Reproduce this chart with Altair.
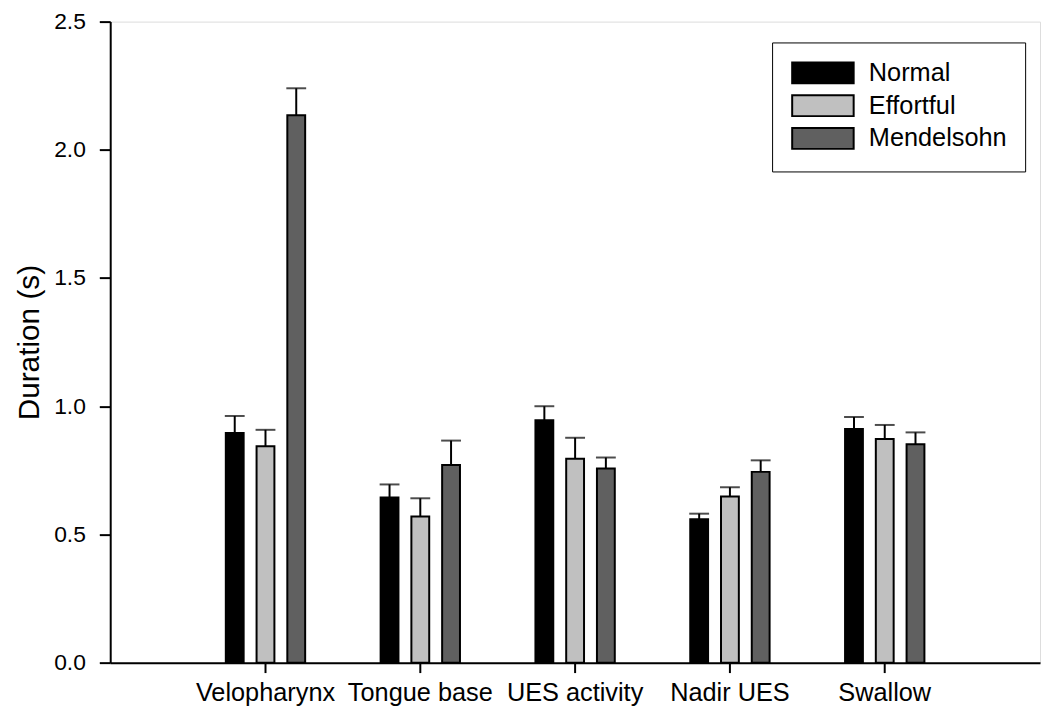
import altair as alt
import pandas as pd

categories = ["Velopharynx", "Tongue base", "UES activity", "Nadir UES", "Swallow"]
series = ["Normal", "Effortful", "Mendelsohn"]
colors = ["#000000", "#c0c0c0", "#606060"]

normal = [0.896, 0.644, 0.945, 0.559, 0.911]
normal_err = [0.066, 0.051, 0.055, 0.022, 0.047]
effortful = [0.844, 0.570, 0.795, 0.648, 0.872]
effortful_err = [0.064, 0.071, 0.082, 0.036, 0.055]
mendelsohn = [2.135, 0.771, 0.757, 0.744, 0.852]
mendelsohn_err = [0.105, 0.095, 0.043, 0.045, 0.046]

y_ticks = [0.0, 0.5, 1.0, 1.5, 2.0, 2.5]

rows = []
for i, cat in enumerate(categories):
    for s, vals, errs in zip(series, [normal, effortful, mendelsohn],
                             [normal_err, effortful_err, mendelsohn_err]):
        rows.append({"category": cat, "series": s, "value": vals[i],
                     "upper": vals[i] + errs[i]})
df = pd.DataFrame(rows)

FONT = "Liberation Sans"
PLOT_H = 646

x = alt.X("category:N", sort=categories,
          scale=alt.Scale(paddingInner=0.404, paddingOuter=0.705),
          axis=alt.Axis(title=None, labelAngle=0, labelFontSize=25.5, labelFont=FONT,
                        labelColor="black", tickSize=10, tickWidth=2, tickColor="black",
                        domainColor="black", domainWidth=2, labelPadding=8))
xoff = alt.XOffset("series:N", sort=series,
                   scale=alt.Scale(paddingInner=0.42, paddingOuter=0.21))
y_scale = alt.Scale(domain=[0, 2.5], nice=False)
y_axis = alt.Axis(values=y_ticks, format=".1f", grid=False, tickSize=11, tickWidth=2,
                  tickColor="black", domainColor="black", domainWidth=2,
                  labelFontSize=23, labelFont=FONT, labelColor="black", labelPadding=14,
                  title="Duration (s)", titleFontSize=30, titleFont=FONT,
                  titleFontWeight="normal", titleColor="black",
                  titleBaseline="alphabetic", titleX=-72, titleY=PLOT_H / 2,
                  titleAlign="center")

base = alt.Chart(df)

stems = base.mark_rule(color="black", strokeWidth=2).encode(
    x=x, xOffset=xoff,
    y=alt.Y("value:Q", scale=y_scale, axis=y_axis),
    y2="upper:Q",
)

bars = base.mark_bar(stroke="black", strokeWidth=2).encode(
    x=x, xOffset=xoff,
    y=alt.Y("value:Q", scale=y_scale, axis=y_axis),
    color=alt.Color("series:N", sort=series,
                    scale=alt.Scale(domain=series, range=colors),
                    legend=alt.Legend(title=None, orient="none", legendX=667, legendY=21,
                                      direction="vertical", padding=18,
                                      strokeColor="black", fillColor="white",
                                      symbolType="M-1,-1H4.9V1H-1Z", symbolSize=441,
                                      symbolStrokeColor="black", symbolStrokeWidth=2,
                                      symbolOpacity=1,
                                      labelFontSize=25.5, labelFont=FONT, labelColor="black",
                                      labelOffset=54, rowPadding=3)),
)

caps = base.mark_tick(color="black", thickness=2, size=20, orient="horizontal").encode(
    x=x, xOffset=xoff,
    y=alt.Y("upper:Q", scale=y_scale, axis=y_axis),
)

chart = alt.layer(stems, bars, caps).properties(
    width=937, height=PLOT_H,
    autosize=alt.AutoSizeParams(type="none"),
    padding={"left": 103, "top": 11, "right": 2, "bottom": 45},
).configure_view(
    stroke="black", strokeWidth=2
).configure_legend(
    strokeWidth=2
).configure(
    background="white"
)

chart.save("out.html", embed_options={"renderer": "svg", "actions": False})
